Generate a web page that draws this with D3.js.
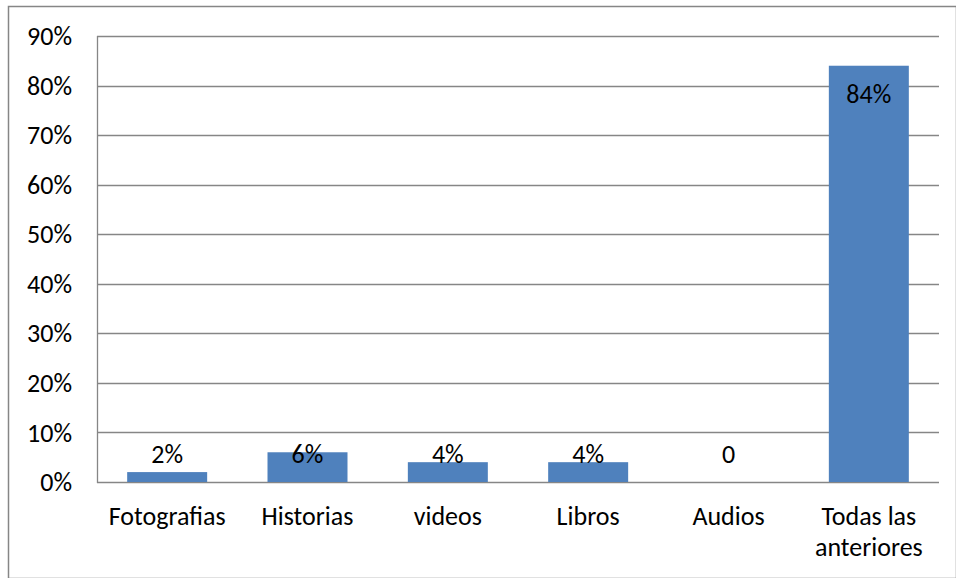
<!DOCTYPE html>
<html>
<head>
<meta charset="utf-8">
<script src="https://cdn.jsdelivr.net/npm/d3@7"></script>
<style>
  body { margin: 0; background: #fff; }
  svg text { font-family: Carlito, Lato, sans-serif; fill: #000; }
</style>
</head>
<body>
<div id="chart"></div>
<script>
// categories and values
var categories = ['Fotografias', 'Historias', 'videos', 'Libros', 'Audios', 'Todas las|anteriores'];
var values = [0.02, 0.06, 0.04, 0.04, 0, 0.84];
var valueLabels = ['2%', '6%', '4%', '4%', '0', '84%'];
var yTicks = [0, 0.1, 0.2, 0.3, 0.4, 0.5, 0.6, 0.7, 0.8, 0.9];

var width = 956, height = 578;
var margin = { top: 36, right: 17, bottom: 96, left: 97 };
var fontSize = '26px';

var svg = d3.select('#chart').append('svg')
  .attr('width', width).attr('height', height);

// outer frame
svg.append('rect')
  .attr('x', 8.5).attr('y', 6.5)
  .attr('width', width - 8).attr('height', height - 6)
  .attr('fill', 'none').attr('stroke', '#868686').attr('stroke-width', 1.5);

var x = d3.scaleBand()
  .domain(categories)
  .range([margin.left, width - margin.right])
  .paddingInner(0.43).paddingOuter(0.215);

var y = d3.scaleLinear()
  .domain([0, 0.9])
  .range([height - margin.bottom, margin.top]);

// gridlines
svg.append('g').selectAll('line')
  .data(yTicks)
  .enter().append('line')
  .attr('x1', margin.left).attr('x2', width - margin.right)
  .attr('y1', function (d) { return Math.round(y(d)) + 0.5; })
  .attr('y2', function (d) { return Math.round(y(d)) + 0.5; })
  .attr('stroke', '#868686').attr('stroke-width', 1.3);

// left axis line
svg.append('line')
  .attr('x1', margin.left + 0.5).attr('x2', margin.left + 0.5)
  .attr('y1', y(0.9)).attr('y2', y(0) + 1)
  .attr('stroke', '#868686').attr('stroke-width', 1.3);

// y tick labels
svg.append('g').selectAll('text')
  .data(yTicks)
  .enter().append('text')
  .attr('x', 72)
  .attr('y', function (d) { return y(d); })
  .attr('dy', '0.35em')
  .attr('text-anchor', 'end')
  .style('font-size', fontSize)
  .text(d3.format('.0%'));

// bars
svg.append('g').selectAll('rect')
  .data(values)
  .enter().append('rect')
  .attr('x', function (d, i) { return x(categories[i]); })
  .attr('width', x.bandwidth())
  .attr('y', function (d) { return y(d); })
  .attr('height', function (d) { return y(0) - y(d); })
  .attr('fill', '#4f81bd');

// value labels
svg.append('g').selectAll('text')
  .data(values)
  .enter().append('text')
  .attr('x', function (d, i) { return x(categories[i]) + x.bandwidth() / 2; })
  .attr('y', function (d) { return d > 0.5 ? y(d) + 37 : y(0) - 19; })
  .attr('text-anchor', 'middle')
  .style('font-size', fontSize)
  .text(function (d, i) { return valueLabels[i]; });

// category labels (split on |)
var cat = svg.append('g').selectAll('text')
  .data(categories)
  .enter().append('text')
  .attr('x', function (d) { return x(d) + x.bandwidth() / 2; })
  .attr('y', 525)
  .attr('text-anchor', 'middle')
  .style('font-size', fontSize);
cat.each(function (d) {
  var parts = d.split('|');
  var t = d3.select(this);
  parts.forEach(function (p, k) {
    t.append('tspan')
      .attr('x', t.attr('x'))
      .attr('dy', k === 0 ? 0 : 31)
      .text(p);
  });
});
</script>
</body>
</html>
